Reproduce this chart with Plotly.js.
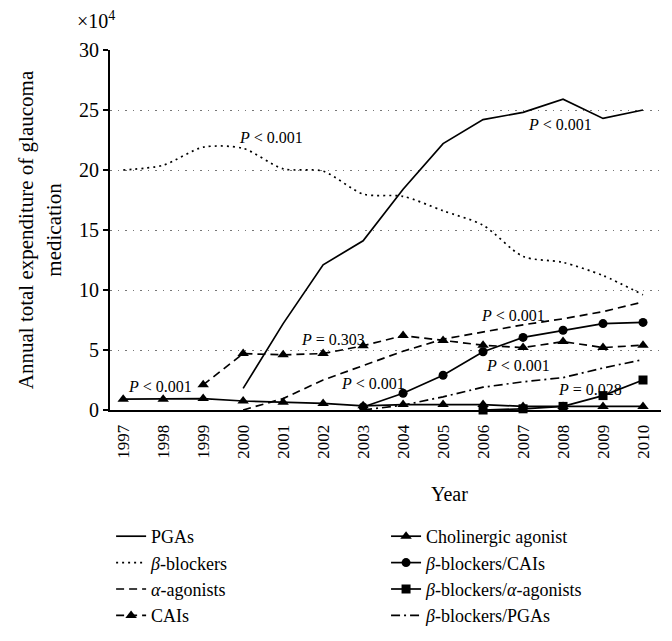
<!DOCTYPE html>
<html>
<head>
<meta charset="utf-8">
<script src="https://cdn.plot.ly/plotly-3.0.1.min.js"></script>
<style>html,body{margin:0;padding:0;background:#fff;}#chart{width:672px;height:641px;}</style>
</head>
<body>
<div id="chart"></div>
<script>
// Years
const years = [1997,1998,1999,2000,2001,2002,2003,2004,2005,2006,2007,2008,2009,2010];
// Annual total expenditure (×10^4)
const pgas        = [null,null,null,1.8,7.2,12.1,14.1,18.4,22.2,24.2,24.8,25.9,24.3,25.0];
const betaBlockers= [20.0,20.4,21.9,21.8,20.1,19.9,18.0,17.8,16.6,15.4,12.8,12.3,11.2,9.6];
const alphaAgon   = [null,null,null,0.0,0.95,2.5,3.7,4.9,5.9,6.5,7.1,7.6,8.2,9.0];
const cais        = [null,null,2.1,4.7,4.6,4.7,5.35,6.2,5.8,5.4,5.2,5.7,5.2,5.4];
const cholinergic = [0.9,0.9,0.95,0.75,0.65,0.55,0.35,0.45,0.45,0.45,0.3,0.3,0.3,0.3];
const bbCais      = [null,null,null,null,null,null,0.25,1.4,2.9,4.85,6.05,6.65,7.2,7.3];
const bbAlpha     = [null,null,null,null,null,null,null,null,null,0.0,0.1,0.3,1.2,2.5];
const bbPgas      = [null,null,null,null,null,null,0.0,0.4,1.1,1.9,2.35,2.7,3.5,4.2];
// Annotations (label, year, value)
const pLabels = ["<i>P</i> < 0.001","<i>P</i> < 0.001","<i>P</i> < 0.001","<i>P</i> = 0.303","<i>P</i> < 0.001","<i>P</i> < 0.001","<i>P</i> < 0.001","<i>P</i> = 0.028"];
const pYears  = [2000.7,2007.93,1997.93,2002.25,2003.25,2006.75,2006.88,2008.68];
const pVals   = [22.7,23.8,1.95,5.85,2.2,7.9,3.7,1.75];

const FONT = "Liberation Serif, Times New Roman, serif";
const LW = 1.7;

function tr(name, y, dash, symbol, legend, shape) {
  const t = {
    x: years, y: y, name: name, type: 'scatter',
    mode: symbol ? 'lines+markers' : 'lines',
    line: {color: '#000', width: LW, dash: dash, shape: shape || 'linear', smoothing: 0.8},
    connectgaps: false, cliponaxis: false, legend: legend
  };
  if (symbol) t.marker = {symbol: symbol, size: symbol === 'triangle-up' ? 10 : 9, color: '#000'};
  return t;
}

const data = [
  tr('PGAs', pgas, 'solid', null, 'legend'),
  tr('<i>β</i>-blockers', betaBlockers, '2px,4px', null, 'legend', 'spline'),
  tr('<i>α</i>-agonists', alphaAgon, '8px,5px', null, 'legend'),
  tr('CAIs', cais, '8px,5px', 'triangle-up', 'legend'),
  tr('Cholinergic agonist', cholinergic, 'solid', 'triangle-up', 'legend2'),
  tr('<i>β</i>-blockers/CAIs', bbCais, 'solid', 'circle', 'legend2'),
  tr('<i>β</i>-blockers/<i>α</i>-agonists', bbAlpha, 'solid', 'square', 'legend2'),
  tr('<i>β</i>-blockers/PGAs', bbPgas, '9px,4px,2px,4px', null, 'legend2')
];

const annotations = pLabels.map((t, i) => ({
  x: pYears[i], y: pVals[i], xref: 'x', yref: 'y', text: t, showarrow: false,
  font: {family: FONT, size: 16, color: '#000'}
}));
annotations.push({
  xref: 'paper', yref: 'paper', x: -0.026, y: 1.045, xanchor: 'center', yanchor: 'bottom',
  text: '×10<sup>4</sup>', showarrow: false, font: {family: FONT, size: 20, color: '#000'}
});
annotations.push({
  xref: 'paper', yref: 'paper', x: 0.617, y: -0.233, xanchor: 'center', yanchor: 'middle',
  text: 'Year', showarrow: false, font: {family: FONT, size: 20, color: '#000'}
});

const legendCommon = {
  orientation: 'v', yanchor: 'top', xanchor: 'left', bgcolor: 'rgba(0,0,0,0)',
  font: {family: FONT, size: 18, color: '#000'}, tracegroupgap: 0, itemwidth: 30
};

const layout = {
  width: 672, height: 641,
  margin: {l: 110, r: 11, t: 50, b: 231, autoexpand: false},
  paper_bgcolor: '#fff', plot_bgcolor: '#fff',
  font: {family: FONT, color: '#000'},
  showlegend: true,
  xaxis: {
    range: [1996.67, 2010.45], tickmode: 'array', tickvals: years, ticktext: years.map(String),
    tickangle: -90, ticks: '', showgrid: false, zeroline: false, ticklabelstandoff: 6,
    showline: true, linecolor: '#000', linewidth: 2, automargin: false,
    tickfont: {family: FONT, size: 17, color: '#000'},
    fixedrange: true
  },
  yaxis: {
    range: [0, 30], tickvals: [0,5,10,15,20,25,30], ticks: 'outside', ticklen: 5, tickwidth: 1.5, tickcolor: '#000',
    showgrid: true, gridcolor: '#777', gridwidth: 1, griddash: '1.5px,6px', zeroline: false,
    showline: true, linecolor: '#000', linewidth: 2, automargin: false,
    tickfont: {family: FONT, size: 20, color: '#000'},
    title: {text: 'Annual total expenditure of glaucoma<br>medication', font: {family: FONT, size: 21, color: '#000'}, standoff: 12},
    fixedrange: true
  },
  legend: Object.assign({x: 0.002, y: -0.3}, legendCommon),
  legend2: Object.assign({x: 0.501, y: -0.3}, legendCommon),
  annotations: annotations
};

Plotly.newPlot('chart', data, layout, {displayModeBar: false, staticPlot: true});
</script>
</body>
</html>
